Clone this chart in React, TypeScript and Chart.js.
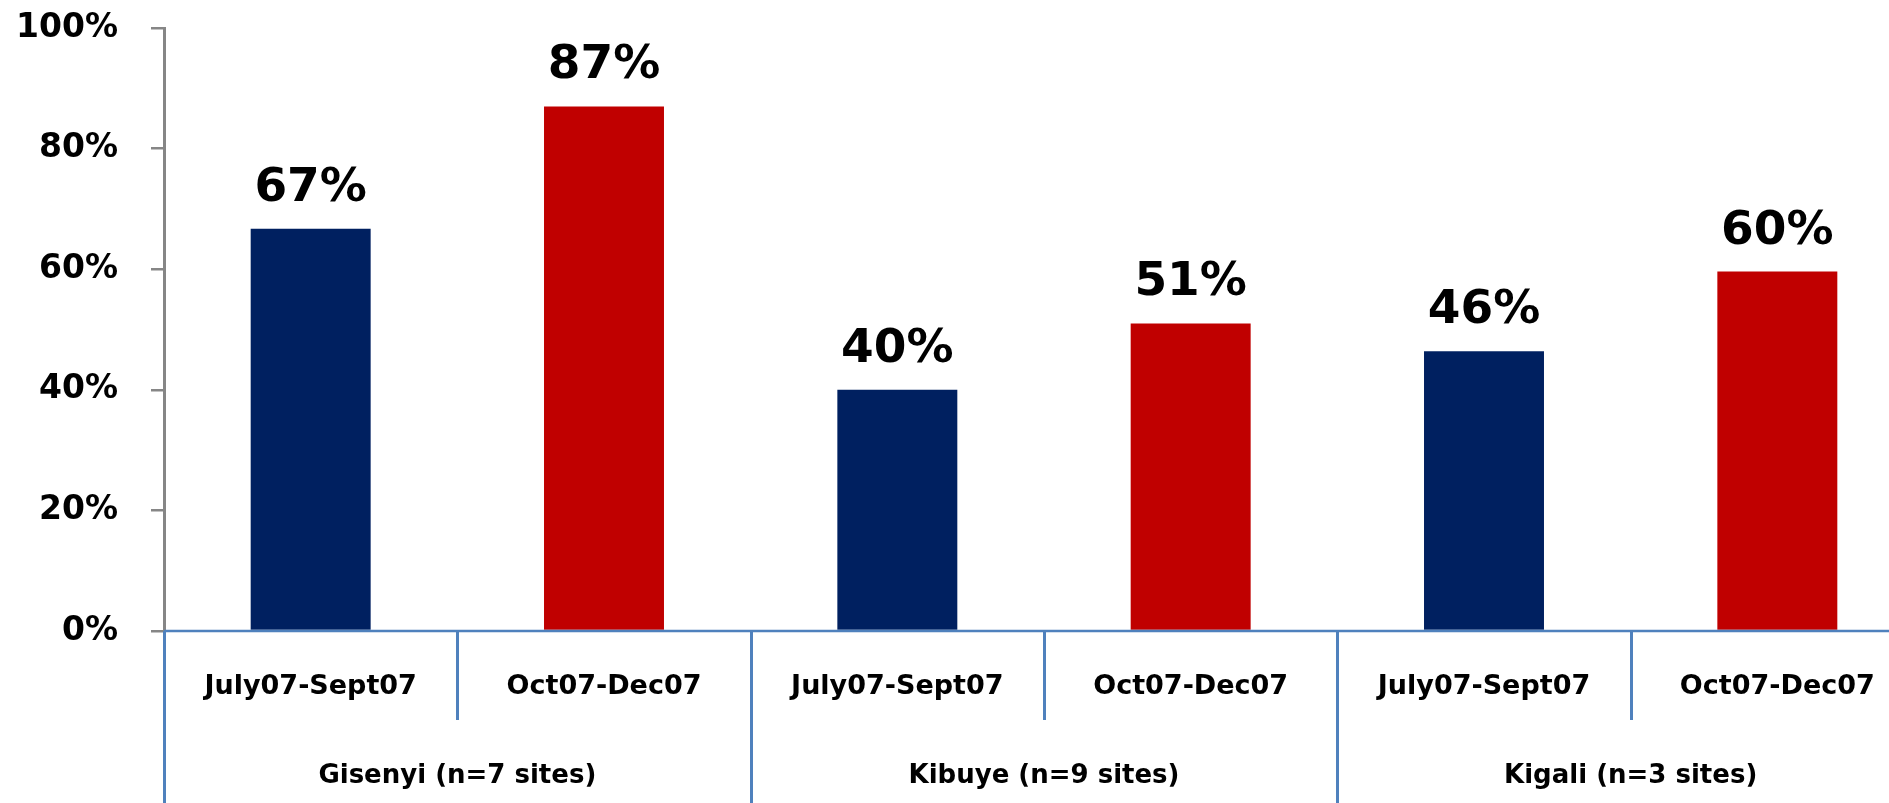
import React, { useEffect, useRef } from "react";
import { Chart, registerables } from "chart.js";

Chart.register(...registerables);

// ---- data ----
const regions = ["Gisenyi (n=7 sites)", "Kibuye (n=9 sites)", "Kigali (n=3 sites)"];
const periods = ["July07-Sept07", "Oct07-Dec07"];
const julySept07 = [66.7, 40, 46.4];
const octDec07 = [87, 51, 59.6];
const yTickValues = [0, 20, 40, 60, 80, 100];

const BLUE = "#002060";
const RED = "#C00000";
const AXIS_BLUE = "#4F81BD";
const AXIS_GREY = "#868686";
const FONT = "'DejaVu Sans', Verdana, sans-serif";

const categoryLabels: string[] = [];
regions.forEach(() => periods.forEach((p) => categoryLabels.push(p)));
const seriesA: (number | null)[] = [];
const seriesB: (number | null)[] = [];
regions.forEach((_, i) => {
  seriesA.push(julySept07[i], null);
  seriesB.push(null, octDec07[i]);
});

const W = 1924;
const H = 803;
const AREA_TOP = 28;
const AREA_BOTTOM = 631;

const axisPlugin = {
  id: "groupedAxis",
  afterDraw(chart: any) {
    const ctx = chart.ctx;
    const area = chart.chartArea;
    const xs = chart.scales.x;
    const n = categoryLabels.length;
    const catW = (area.right - area.left) / n;
    const y0 = area.bottom;
    ctx.save();
    ctx.strokeStyle = AXIS_BLUE;
    for (let i = 0; i <= n; i++) {
      const x = Math.round(area.left + i * catW) + 0.5;
      const isGroup = i % periods.length === 0;
      ctx.lineWidth = 3;
      ctx.beginPath();
      ctx.moveTo(x, y0);
      ctx.lineTo(x, isGroup ? chart.height : y0 + 89);
      ctx.stroke();
    }
    ctx.lineWidth = 2.5;
    ctx.beginPath();
    ctx.moveTo(area.left, y0);
    ctx.lineTo(chart.width, y0);
    ctx.stroke();
    ctx.fillStyle = "#000";
    ctx.textAlign = "center";
    ctx.textBaseline = "alphabetic";
    ctx.font = `bold 27px ${FONT}`;
    categoryLabels.forEach((lab, i) => {
      ctx.fillText(lab, xs.getPixelForValue(i), y0 + 63);
    });
    ctx.font = `bold 26px ${FONT}`;
    regions.forEach((r, g) => {
      const cx = area.left + (g * periods.length + periods.length / 2) * catW;
      ctx.fillText(r, cx, y0 + 152);
    });
    ctx.font = `bold 47px ${FONT}`;
    chart.data.datasets.forEach((ds: any, di: number) => {
      const meta = chart.getDatasetMeta(di);
      ds.data.forEach((v: number | null, j: number) => {
        if (v === null || v === undefined) return;
        const el = meta.data[j];
        ctx.fillText(`${Math.round(v)}%`, el.x, el.y - 28);
      });
    });
    ctx.restore();
  },
};

export default function App() {
  const ref = useRef<HTMLCanvasElement | null>(null);
  useEffect(() => {
    if (!ref.current) return;
    const chart = new Chart(ref.current, {
      type: "bar",
      data: {
        labels: categoryLabels,
        datasets: [
          {
            label: periods[0],
            data: seriesA,
            backgroundColor: BLUE,
            grouped: false,
            barPercentage: 0.409,
            categoryPercentage: 1,
          } as any,
          {
            label: periods[1],
            data: seriesB,
            backgroundColor: RED,
            grouped: false,
            barPercentage: 0.409,
            categoryPercentage: 1,
          } as any,
        ],
      },
      options: {
        animation: false,
        responsive: false,
        devicePixelRatio: 1,
        layout: { padding: 0 },
        plugins: { legend: { display: false }, tooltip: { enabled: false } },
        scales: {
          x: { display: false },
          y: {
            min: 0,
            max: 100,
            afterFit: (scale: any) => {
              scale.width = 164;
              scale.paddingTop = AREA_TOP;
              scale.paddingBottom = H - AREA_BOTTOM;
            },
            afterBuildTicks: (scale: any) => {
              scale.ticks = yTickValues.map((v) => ({ value: v }));
            },
            ticks: {
              padding: 33,
              color: "#000",
              font: { family: FONT, weight: "bold", size: 33 },
              callback: (v: any) => `${v}%`,
            },
            grid: {
              drawOnChartArea: false,
              drawTicks: true,
              tickLength: 13,
              color: AXIS_GREY,
              lineWidth: 2.5,
            },
            border: { color: AXIS_GREY, width: 3 },
          },
        },
      },
      plugins: [axisPlugin],
    });
    return () => chart.destroy();
  }, []);
  return (
    <div
      style={{
        position: "fixed",
        left: 0,
        top: 0,
        width: 1889,
        height: 803,
        overflow: "hidden",
        background: "#fff",
      }}
    >
      <canvas ref={ref} width={W} height={H} style={{ display: "block", width: W, height: H }} />
    </div>
  );
}
